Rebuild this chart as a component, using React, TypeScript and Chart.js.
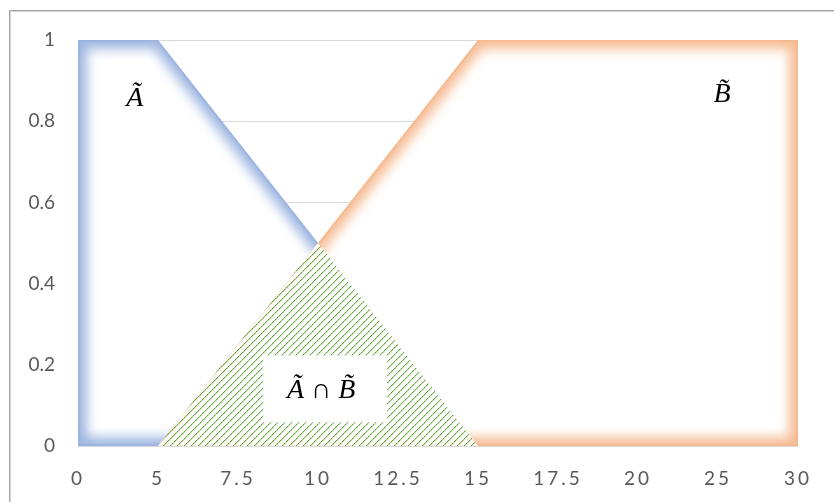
import React, { useEffect, useRef } from 'react';
import { Chart, registerables, LinearScale } from 'chart.js';

// Category positions on the x axis (equally spaced)
const categories = ['0', '5', '7.5', '10', '12.5', '15', '17.5', '20', '25', '30'];
// Membership of fuzzy set A at each category
const muA = [1, 1, 0.75, 0.5, 0.25, 0, 0, 0, 0, 0];
// Membership of fuzzy set B at each category
const muB = [0, 0, 0.25, 0.5, 0.75, 1, 1, 1, 1, 1];
// Membership of the intersection A ∩ B
const muAB = [0, 0, 0.25, 0.5, 0.25, 0, 0, 0, 0, 0];
const yTicks = [0, 0.2, 0.4, 0.6, 0.8, 1];

const labelA = 'Ã';
const labelB = 'B\u0303';
const labelAB = ['Ã', ' ∩ ', 'B\u0303'];

// x axis whose tick labels are drawn with extra letter spacing
class SpacedLinearScale extends LinearScale {
  static id = 'spacedLinear';
  static defaults = LinearScale.defaults;
  drawLabels(area: any) {
    const ctx: any = this.ctx;
    ctx.save();
    ctx.letterSpacing = '3px';
    super.drawLabels(area);
    ctx.restore();
  }
}

Chart.register(...registerables, SpacedLinearScale);

const toPoints = (vals: number[]) => vals.map((y, i) => ({ x: i, y }));

// Soft inner glow along the outline of the area under each series
const innerGlow = {
  id: 'innerGlow',
  afterDatasetDraw(chart: any, args: any) {
    const ds = chart.data.datasets[args.index];
    if (!ds.glowColor) return;
    const pts = args.meta.data;
    const base = chart.scales.y.getPixelForValue(0);
    const ctx = chart.ctx;
    const trace = () => {
      ctx.beginPath();
      ctx.moveTo(pts[0].x, base);
      pts.forEach((p: any) => ctx.lineTo(p.x, p.y));
      ctx.lineTo(pts[pts.length - 1].x, base);
      ctx.closePath();
    };
    ctx.save();
    trace();
    ctx.clip();
    ctx.lineJoin = 'miter';
    ctx.strokeStyle = ds.glowColor;
    ctx.globalAlpha = 0.85;
    ctx.filter = `blur(${ds.glowBlur}px)`;
    ctx.lineWidth = ds.glowWidth;
    trace();
    ctx.stroke();
    ctx.globalAlpha = 0.7;
    ctx.filter = 'blur(0.8px)';
    ctx.lineWidth = 3;
    trace();
    ctx.stroke();
    ctx.restore();
  },
};

// Text labels for the sets and the white box behind the intersection label
const setLabels = {
  id: 'setLabels',
  afterDatasetsDraw(chart: any) {
    const { ctx, scales } = chart;
    const xs = scales.x;
    const ys = scales.y;
    const italic = 'italic 28px "Liberation Serif", "DejaVu Serif", serif';
    const upright = '28px "Liberation Serif", "DejaVu Serif", serif';
    ctx.save();
    ctx.fillStyle = '#000';
    ctx.textAlign = 'center';
    ctx.textBaseline = 'middle';
    ctx.font = italic;
    ctx.fillText(labelA, xs.getPixelForValue(0.71), ys.getPixelForValue(0.855));
    ctx.fillText(labelB, xs.getPixelForValue(8.05), ys.getPixelForValue(0.865));

    const bx = xs.getPixelForValue(3.09);
    const by = ys.getPixelForValue(0.142);
    ctx.fillStyle = '#fff';
    ctx.fillRect(bx - 62, by - 33, 124, 67);

    const fonts = [italic, upright, italic];
    const widths = labelAB.map((t, i) => {
      ctx.font = fonts[i];
      return ctx.measureText(t).width;
    });
    let x = bx - 4 - widths.reduce((a, b) => a + b, 0) / 2;
    ctx.textAlign = 'left';
    ctx.fillStyle = '#000';
    labelAB.forEach((t, i) => {
      ctx.font = fonts[i];
      ctx.fillText(t, x, by + 2);
      x += widths[i];
    });
    ctx.restore();
  },
};

// Thin frame along the top and left of the canvas
const frame = {
  id: 'frame',
  beforeDraw(chart: any) {
    const ctx = chart.ctx;
    ctx.save();
    ctx.fillStyle = '#a6a6a6';
    ctx.fillRect(9, 10, chart.width - 9, 1);
    ctx.fillRect(9, 10, 1, chart.height - 10);
    ctx.fillStyle = '#d4d4d4';
    ctx.fillRect(10, 11, chart.width - 10, 1);
    ctx.fillRect(10, 11, 1, chart.height - 11);
    ctx.restore();
  },
};

function makeHatch(): CanvasPattern | string {
  const n = 7;
  const tile = document.createElement('canvas');
  tile.width = n;
  tile.height = n;
  const t = tile.getContext('2d');
  if (!t) return '#70AD47';
  t.fillStyle = 'rgba(255,255,255,0.9)';
  t.fillRect(0, 0, n, n);
  for (let i = 0; i < n; i++) {
    t.fillStyle = i % 2 === 0 ? '#5aa233' : '#8cc46a';
    t.fillRect(i, n - 1 - i, 1, 1);
    t.fillStyle = 'rgba(112,173,71,0.35)';
    t.fillRect((i + 1) % n, n - 1 - i, 1, 1);
  }
  return t.createPattern(tile, 'repeat') || '#70AD47';
}

const tickFont = { family: 'Lato, "Open Sans", sans-serif', size: 19 };

export default function App() {
  const ref = useRef<HTMLCanvasElement>(null);

  useEffect(() => {
    const canvas = ref.current;
    if (!canvas) return;
    const hatch = makeHatch();
    const chart = new Chart(canvas, {
      type: 'line',
      data: {
        datasets: [
          {
            label: 'A ∩ B',
            data: toPoints(muAB),
            fill: 'origin',
            backgroundColor: hatch,
            borderWidth: 0,
            pointRadius: 0,
            order: 0,
          } as any,
          {
            label: 'B',
            data: toPoints(muB),
            fill: 'origin',
            backgroundColor: '#ffffff',
            borderWidth: 0,
            pointRadius: 0,
            order: 1,
            glowColor: '#f4b183',
            glowWidth: 18,
            glowBlur: 6,
          } as any,
          {
            label: 'A',
            data: toPoints(muA),
            fill: 'origin',
            backgroundColor: '#ffffff',
            borderWidth: 0,
            pointRadius: 0,
            order: 2,
            glowColor: '#8faadc',
            glowWidth: 18,
            glowBlur: 6,
          } as any,
        ],
      },
      options: {
        responsive: false,
        animation: false,
        devicePixelRatio: 1,
        layout: { padding: { top: 40, right: 36, left: 0, bottom: 0 } },
        plugins: {
          legend: { display: false },
          tooltip: { enabled: false },
        },
        scales: {
          x: {
            type: 'spacedLinear' as any,
            min: 0,
            max: 9,
            grid: { display: false },
            border: { display: false },
            ticks: {
              stepSize: 1,
              autoSkip: false,
              maxRotation: 0,
              padding: 13,
              color: '#595959',
              font: tickFont,
              callback: (v: any) => categories[v] ?? '',
            },
            afterFit: (s: any) => {
              s.height = 56;
            },
          },
          y: {
            min: 0,
            max: 1,
            grid: { color: '#d9d9d9', drawTicks: false },
            border: { display: false },
            ticks: {
              padding: 23,
              color: '#595959',
              font: tickFont,
              callback: (v: any) => String(v),
            },
            afterBuildTicks: (s: any) => {
              s.ticks = yTicks.map((value) => ({ value }));
            },
            afterFit: (s: any) => {
              s.width = 78;
            },
          },
        },
      } as any,
      plugins: [frame, innerGlow, setLabels],
    });
    return () => chart.destroy();
  }, []);

  return (
    <div style={{ position: 'absolute', left: 0, top: 0, width: 834, height: 502, background: '#fff' }}>
      <canvas ref={ref} width={834} height={502} style={{ display: 'block', width: 834, height: 502 }} />
    </div>
  );
}
